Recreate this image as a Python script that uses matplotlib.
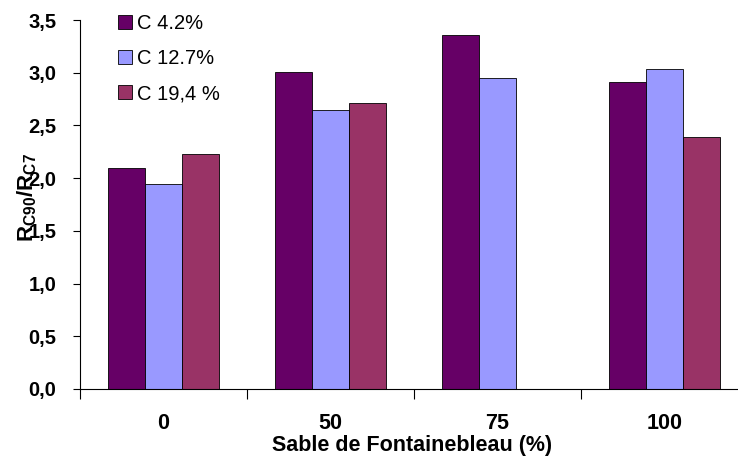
import matplotlib.pyplot as plt
import numpy as np

plt.rcParams['font.family'] = ['Liberation Sans', 'DejaVu Sans']
plt.rcParams['mathtext.fontset'] = 'custom'
plt.rcParams['mathtext.bf'] = 'Liberation Sans:bold'
plt.rcParams['mathtext.rm'] = 'Liberation Sans'

# Data
categories = ['0', '50', '75', '100']
series_names = ['C 4.2%', 'C 12.7%', 'C 19,4 %']
c42 = [2.10, 3.01, 3.36, 2.91]
c127 = [1.94, 2.65, 2.95, 3.04]
c194 = [2.23, 2.71, np.nan, 2.39]
colors = ['#660066', '#9999FF', '#993366']

fig = plt.figure(figsize=(7.38, 4.57), dpi=100)
ax = fig.add_axes([0.1084, 0.1488, 0.9051, 0.8074])

x = np.arange(len(categories))
w = 0.22
for i, (vals, name, col) in enumerate(zip([c42, c127, c194], series_names, colors)):
    ax.bar(x + (i - 1) * w, vals, width=w, color=col, edgecolor='black',
           linewidth=0.6, label=name)

ax.set_xlim(-0.5, 3.5)
ax.set_ylim(0, 3.5)
ax.set_yticks(np.arange(0, 3.51, 0.5))
ax.set_yticklabels([f'{v:.1f}'.replace('.', ',') for v in np.arange(0, 3.51, 0.5)],
                   fontsize=14.5, fontweight='bold')

# boundary ticks below, labels at centres
ax.set_xticks(np.arange(-0.5, 3.6, 1))
ax.set_xticklabels([])
ax.set_xticks(x, minor=True)
ax.set_xticklabels(categories, minor=True, fontsize=15.5, fontweight='bold')
ax.tick_params(axis='x', which='major', length=7, width=0.8)
ax.tick_params(axis='x', which='minor', length=0, pad=17)
ax.tick_params(axis='y', length=5, width=0.8, pad=12)

ax.spines['top'].set_visible(False)
ax.spines['right'].set_visible(False)

ax.set_xlabel('Sable de Fontainebleau (%)', fontsize=15.5, fontweight='bold')
ax.xaxis.set_label_coords(0.497, -0.125)
ax.set_ylabel(r'$\mathbf{R_{C90}/R_{C7}}$', fontsize=16)
ax.yaxis.set_label_coords(-0.062, 0.52)

ax.legend(loc='upper left', bbox_to_anchor=(0.03, 1.065), frameon=False,
          fontsize=14.5, handlelength=0.7, handleheight=0.7,
          handletextpad=0.25, labelspacing=0.8)

plt.savefig('out.png', dpi=100)
